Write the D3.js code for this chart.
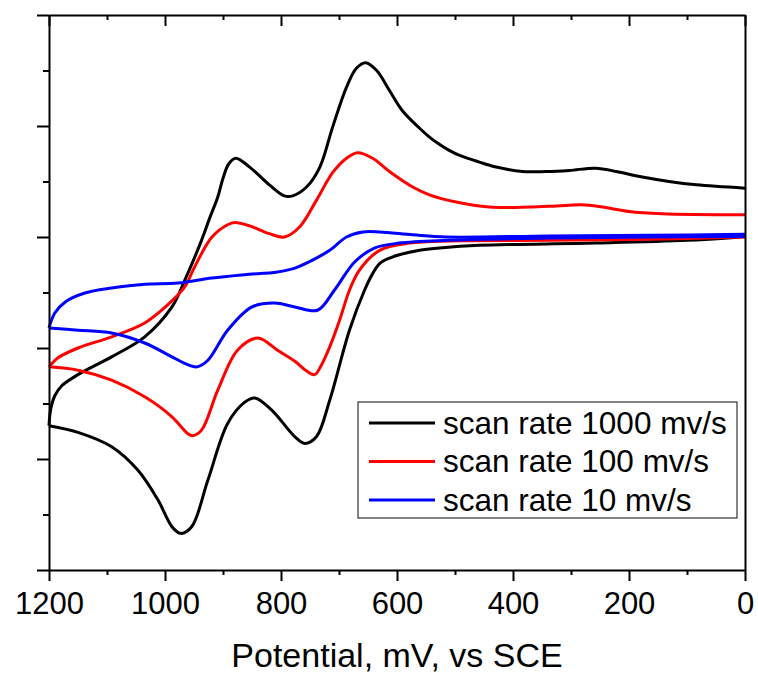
<!DOCTYPE html>
<html>
<head>
<meta charset="utf-8">
<script src="https://cdn.jsdelivr.net/npm/d3@7"></script>
<style>
  body { margin: 0; background: #fff; }
  text { font-family: "Liberation Sans", Arial, sans-serif; fill: #000; }
</style>
</head>
<body>
<svg id="cv"></svg>
<script>
// potential (mV vs SCE), current (arbitrary units)
const blackUpper = [
  [0, 4.4], [84, 4.7], [131, 5.0], [177, 5.4], [222, 5.9], [257, 6.2], [303, 6.0],
  [343, 5.9], [384, 5.9], [429, 6.3], [458, 6.75], [492, 7.35], [510, 7.8], [527, 8.35],
  [544, 9.0], [561, 9.8], [591, 11.4], [613, 13.2], [635, 15.0], [654, 15.7], [670, 15.2],
  [687, 13.5], [711, 9.9], [733, 6.3], [756, 4.5], [780, 3.7], [794, 3.7], [820, 4.7],
  [854, 6.3], [878, 7.1], [890, 6.6], [900, 5.3], [909, 3.6], [923, 1.7], [937, -0.3],
  [966, -3.9], [988, -6.3], [1035, -9.0], [1092, -10.8], [1150, -12.4], [1178, -13.4],
  [1190, -14.3], [1197, -15.5], [1200, -17.0]
];
const blackLower = [
  [1200, -17.0], [1150, -17.6], [1092, -18.9], [1047, -21.0], [1012, -23.7],
  [988, -26.1], [973, -26.7], [954, -26.1], [926, -21.9], [892, -16.8], [863, -14.9],
  [845, -14.5], [816, -15.6], [776, -18.0], [759, -18.6], [739, -18.0], [716, -14.7],
  [682, -8.4], [656, -4.8], [642, -3.3], [630, -2.4], [613, -1.9], [596, -1.6],
  [561, -1.2], [527, -1.0], [458, -0.75], [257, -0.55], [100, -0.3], [0, 0.05]
];
const redUpper = [
  [0, 2.0], [143, 2.1], [200, 2.3], [246, 2.7], [281, 2.9], [325, 2.8], [372, 2.7],
  [441, 2.7], [498, 3.15], [544, 3.8], [573, 4.5], [613, 5.9], [642, 7.1], [668, 7.6],
  [687, 7.1], [711, 5.8], [739, 3.3], [768, 0.9], [794, 0], [820, 0.3], [854, 1.0],
  [880, 1.3], [892, 1.1], [919, 0], [949, -2.7], [966, -4.5], [995, -6.1],
  [1035, -7.75], [1092, -9.0], [1150, -10.0], [1185, -10.9], [1200, -11.7]
];
const redLower = [
  [1200, -11.7], [1150, -12.0], [1092, -12.9], [1035, -14.4], [988, -16.2],
  [961, -17.7], [952, -17.9], [937, -17.4], [909, -13.8], [875, -10.2], [840, -9.1],
  [806, -10.2], [776, -11.2], [755, -12.1], [742, -12.4], [730, -11.5], [716, -9.9],
  [699, -7.5], [682, -4.8], [665, -3.0], [630, -1.2], [578, -0.55], [510, -0.35],
  [337, -0.3], [165, -0.2], [0, 0]
];
const blueUpper = [
  [0, 0.25], [165, 0.15], [337, 0.1], [515, 0], [573, 0.2], [630, 0.45], [659, 0.45],
  [687, 0], [716, -1.2], [739, -1.9], [776, -2.8], [806, -3.15], [863, -3.4],
  [919, -3.7], [978, -4.15], [1035, -4.25], [1092, -4.6], [1138, -5.05],
  [1172, -5.85], [1190, -6.85], [1200, -8.2]
];
const blueLower = [
  [1200, -8.2], [1150, -8.4], [1092, -8.65], [1035, -9.55], [988, -10.8],
  [961, -11.5], [945, -11.7], [926, -11.1], [892, -8.4], [850, -6.3], [811, -5.95],
  [776, -6.3], [737, -6.6], [708, -4.8], [673, -2.25], [639, -1.0], [596, -0.55],
  [510, -0.3], [337, -0.1], [165, 0], [0, 0.05]
];

const xMajor = [1200, 1000, 800, 600, 400, 200, 0];
const xMinor = [1100, 900, 700, 500, 300, 100];
const yMajor = [-30, -20, -10, 0, 10, 20];
const yMinor = [-25, -15, -5, 5, 15];

const series = [
  { name: "scan rate 1000 mv/s", color: "#000000", branches: [blackUpper, blackLower] },
  { name: "scan rate 100 mv/s", color: "#ff0000", branches: [redUpper, redLower] },
  { name: "scan rate 10 mv/s", color: "#0000ff", branches: [blueUpper, blueLower] }
];

const width = 758;
const height = 679;
const margin = { top: 15, right: 13, bottom: 109, left: 49 };
const innerWidth = width - margin.left - margin.right;
const innerHeight = height - margin.top - margin.bottom;

const svg = d3.select("#cv").attr("width", width).attr("height", height);

const xScale = d3.scaleLinear().domain([1200, 0]).range([0, innerWidth]);
const yScale = d3.scaleLinear().domain([-30, 20]).range([innerHeight, 0]);

const g = svg.append("g").attr("transform", `translate(${margin.left},${margin.top})`);

// curves
const line = d3.line()
  .x((d) => xScale(d[0]))
  .y((d) => yScale(d[1]))
  .curve(d3.curveCatmullRom.alpha(0.5));

series.forEach((s) => {
  s.branches.forEach((b) => {
    g.append("path")
      .attr("d", line(b))
      .attr("fill", "none")
      .attr("stroke", s.color)
      .attr("stroke-width", 3)
      .attr("stroke-linejoin", "round");
  });
});

// axes
const styleAxis = (sel) => {
  sel.selectAll("path.domain").attr("stroke", "#000").attr("stroke-width", 2);
  sel.selectAll(".tick line").attr("stroke", "#000").attr("stroke-width", 2);
};
// tick-only axes: drop the empty label nodes
const ticksOnly = (sel) => {
  styleAxis(sel);
  sel.selectAll(".tick text").remove();
};

const xAxisG = g.append("g")
  .attr("transform", `translate(0,${innerHeight})`)
  .call(d3.axisBottom(xScale).tickValues(xMajor).tickSize(11).tickSizeOuter(0)
    .tickPadding(11).tickFormat(d3.format("d")))
  .call(styleAxis);
xAxisG.selectAll("text").attr("font-size", 31).attr("fill", "#000");
g.append("g")
  .attr("transform", `translate(0,${innerHeight})`)
  .call(d3.axisBottom(xScale).tickValues(xMinor).tickSize(5))
  .call(ticksOnly)
  .select("path.domain").remove();

g.append("g")
  .call(d3.axisTop(xScale).tickValues(xMajor).tickSize(-11).tickSizeOuter(0))
  .call(ticksOnly);
g.append("g")
  .call(d3.axisTop(xScale).tickValues(xMinor).tickSize(-5))
  .call(ticksOnly)
  .select("path.domain").remove();

g.append("g")
  .call(d3.axisLeft(yScale).tickValues(yMajor).tickSize(12).tickSizeOuter(0))
  .call(ticksOnly);
g.append("g")
  .call(d3.axisLeft(yScale).tickValues(yMinor).tickSize(6))
  .call(ticksOnly)
  .select("path.domain").remove();

g.append("g")
  .attr("transform", `translate(${innerWidth},0)`)
  .call(d3.axisRight(yScale).tickValues([]).tickSizeOuter(0))
  .call(ticksOnly);

// axis title
g.append("text")
  .attr("x", innerWidth / 2)
  .attr("y", innerHeight + 97)
  .attr("text-anchor", "middle")
  .attr("font-size", 34)
  .text("Potential, mV, vs SCE");

// legend
const legend = g.append("g").attr("transform", `translate(${358 - margin.left},${402 - margin.top})`);
legend.append("rect")
  .attr("width", 379)
  .attr("height", 116)
  .attr("fill", "#fff")
  .attr("stroke", "#333")
  .attr("stroke-width", 1.2);
series.forEach((s, i) => {
  const y = 21 + i * 38.5;
  legend.append("line")
    .attr("x1", 11).attr("x2", 77)
    .attr("y1", y).attr("y2", y)
    .attr("stroke", s.color)
    .attr("stroke-width", 3);
  legend.append("text")
    .attr("x", 85)
    .attr("y", y + 10.5)
    .attr("font-size", 31.5)
    .text(s.name);
});
</script>
</body>
</html>
